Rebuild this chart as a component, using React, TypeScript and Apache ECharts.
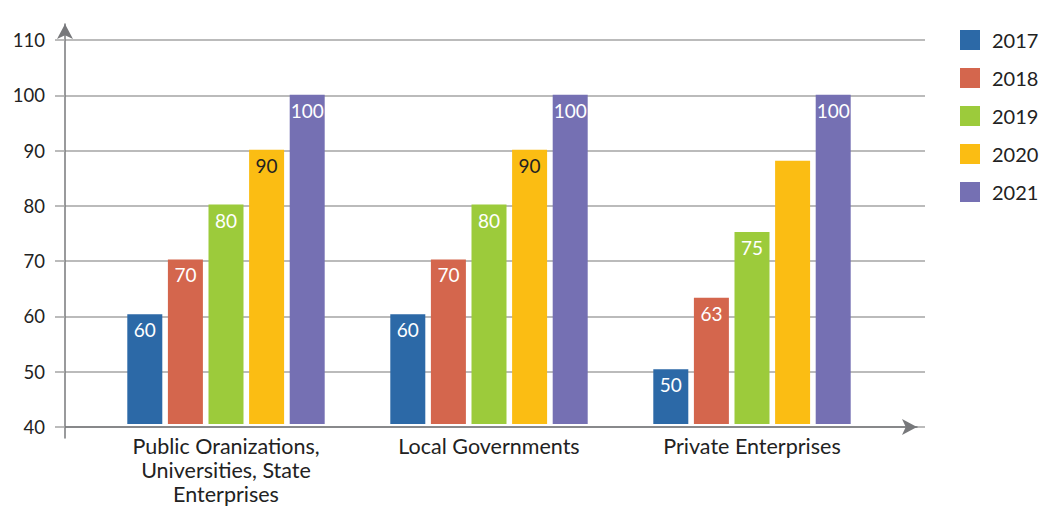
import React, { useEffect, useRef } from "react";
import * as echarts from "echarts";

const categories = [
  "Public Oranizations,\nUniversities, State\nEnterprises",
  "Local Governments",
  "Private Enterprises",
];
const years = ["2017", "2018", "2019", "2020", "2021"];
const values2017 = [60, 60, 50];
const values2018 = [70, 70, 63];
const values2019 = [80, 80, 75];
const values2020 = [90, 90, 88];
const values2021 = [100, 100, 100];
const hiddenLabels2020 = [false, false, true];
const yTicks = { min: 40, max: 110, interval: 10 };

const colors = ["#2c69a7", "#d4664d", "#9ccb3b", "#fbbd13", "#7570b3"];
const labelColors = ["#ffffff", "#ffffff", "#ffffff", "#222222", "#ffffff"];
const FONT = "Lato";
const AXIS = "#77787b";
const GRIDC = "#a4a4a4";

export default function App() {
  const ref = useRef<HTMLDivElement>(null);
  useEffect(() => {
    if (!ref.current) return;
    const chart = echarts.init(ref.current, null, { renderer: "svg" });
    const seriesValues = [values2017, values2018, values2019, values2020, values2021];
    const series = years.map((y, i) => ({
      name: y,
      type: "bar",
      xAxisIndex: 1,
      yAxisIndex: 1,
      barWidth: 35,
      barGap: "16%",
      itemStyle: { color: colors[i] },
      label: {
        show: true,
        position: "insideTop",
        distance: 6,
        color: labelColors[i],
        fontSize: 19,
        fontFamily: FONT,
      },
      data: seriesValues[i].map((v, j) =>
        i === 3 && hiddenLabels2020[j] ? { value: v, label: { show: false } } : v
      ),
    }));
    const hiddenX = (g: number) => ({ type: "value", gridIndex: g, min: 0, max: 1, show: false });
    const hiddenY = (g: number) => ({
      type: "value",
      gridIndex: g,
      min: yTicks.min,
      max: yTicks.max,
      interval: yTicks.interval,
      show: false,
    });
    chart.setOption({
      animation: false,
      textStyle: { fontFamily: FONT },
      legend: {
        orient: "vertical",
        left: 960,
        top: 30,
        padding: 0,
        itemWidth: 20,
        itemHeight: 20,
        itemGap: 18,
        icon: "rect",
        textStyle: { fontSize: 20, color: "#222", fontFamily: FONT, padding: [0, 0, 0, 7] },
        data: years,
      },
      grid: [
        { left: 65, right: 115, top: 40, bottom: 79 },
        { left: 94.5, right: 156.5, top: 40, bottom: 79 },
        { left: 65, right: 115, top: 24, bottom: 68 },
        { left: 65, right: 123, top: 40, bottom: 79 },
      ],
      xAxis: [
        hiddenX(0),
        {
          type: "category",
          gridIndex: 1,
          data: categories,
          axisLine: { show: false },
          axisTick: { show: false },
          axisLabel: {
            fontSize: 21.5,
            color: "#222",
            lineHeight: 24,
            margin: 10,
            fontFamily: FONT,
          },
        },
        hiddenX(2),
        {
          type: "value",
          gridIndex: 3,
          min: 0,
          max: 1,
          axisLine: {
            show: true,
            onZero: false,
            lineStyle: { color: AXIS, width: 1.5 },
            symbol: ["none", "arrow"],
            symbolSize: [12, 15],
          },
          axisTick: { show: false },
          axisLabel: { show: false },
          splitLine: { show: false },
        },
      ],
      yAxis: [
        {
          type: "value",
          gridIndex: 0,
          min: yTicks.min,
          max: yTicks.max,
          interval: yTicks.interval,
          axisLine: { show: false },
          axisTick: {
            show: true,
            length: 10,
            lineStyle: { color: GRIDC, width: 1.5 },
          },
          axisLabel: { fontSize: 18.5, color: "#222", margin: 20, fontFamily: FONT },
          splitLine: { show: true, lineStyle: { color: GRIDC, width: 1.5 } },
        },
        hiddenY(1),
        {
          type: "value",
          gridIndex: 2,
          min: 0,
          max: 1,
          axisLine: {
            show: true,
            onZero: false,
            lineStyle: { color: AXIS, width: 1.5 },
            symbol: ["none", "arrow"],
            symbolSize: [12, 15],
          },
          axisTick: { show: false },
          axisLabel: { show: false },
          splitLine: { show: false },
        },
        hiddenY(3),
      ],
      series,
    });
    return () => chart.dispose();
  }, []);
  return (
    <div
      ref={ref}
      style={{ position: "fixed", left: 0, top: 0, width: 1040, height: 506, background: "#fff" }}
    />
  );
}
